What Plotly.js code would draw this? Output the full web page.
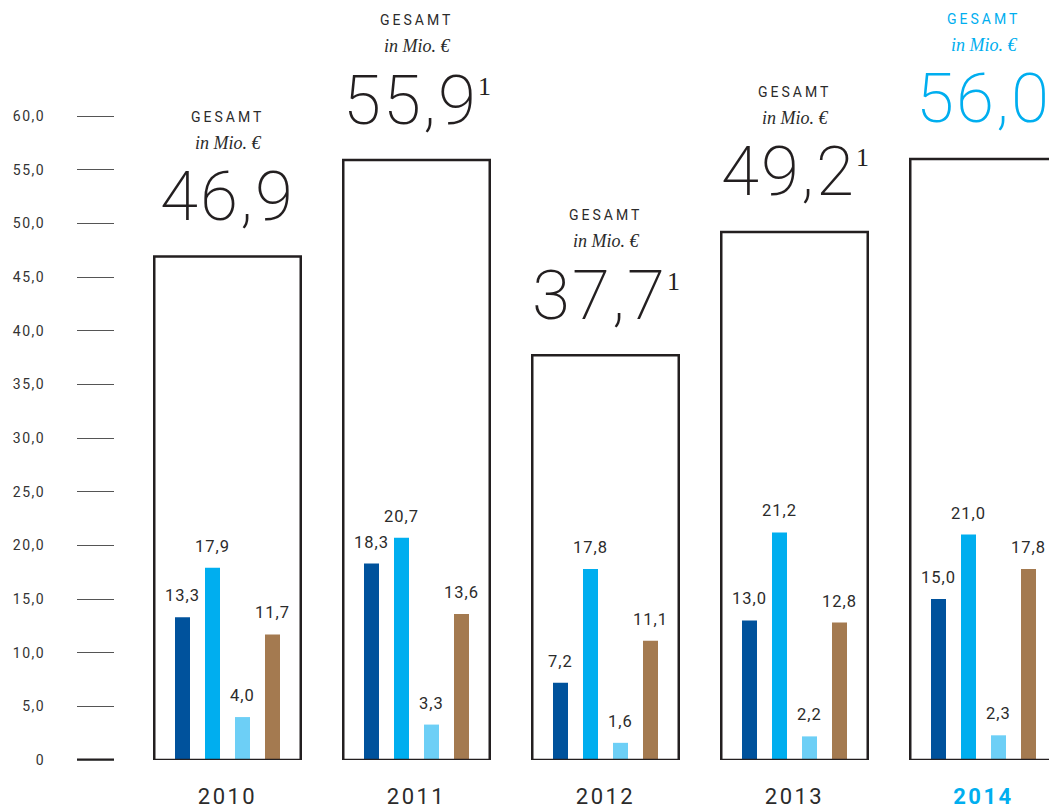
<!DOCTYPE html>
<html><head><meta charset="utf-8">
<script src="https://cdn.plot.ly/plotly-3.0.1.min.js"></script>
<style>html,body{margin:0;padding:0;background:#fff;overflow:hidden}</style>
</head><body><div id="chart" style="width:1049px;height:809px"></div>
<script>
// ---- data ----
const years = [2010, 2011, 2012, 2013, 2014];
const totals = [46.9, 55.9, 37.7, 49.2, 56.0];
const notes = ['', '1', '1', '1', ''];
const seriesDark = [13.3, 18.3, 7.2, 13.0, 15.0];
const seriesBlue = [17.9, 20.7, 17.8, 21.2, 21.0];
const seriesLight = [4.0, 3.3, 1.6, 2.2, 2.3];
const seriesBrown = [11.7, 13.6, 11.1, 12.8, 17.8];
const yTickValues = [0, 5, 10, 15, 20, 25, 30, 35, 40, 45, 50, 55, 60];
const headerLabel = 'GESAMT';
const unitLabel = 'in Mio. €';
const highlightYear = 2014;

// ---- layout constants ----
const W = 1049, H = 809;
const PX_PER_YEAR = 189, FIRST_CENTER_PX = 227.5;
const ZERO_PX = 760, PX_PER_UNIT = 644 / 60;
const TEXT = '#2b2b2b', HL = '#00aeef';
const NUM_FONT = 'Roboto, "Open Sans", sans-serif';

const fmt = v => v.toFixed(1).replace('.', ',');
const px2u = p => p / PX_PER_YEAR;

const series = [
  {values: seriesDark, color: '#00529c', offsetPx: -45},
  {values: seriesBlue, color: '#00aeef', offsetPx: -15},
  {values: seriesLight, color: '#6dcff6', offsetPx: 15},
  {values: seriesBrown, color: '#a47a50', offsetPx: 45}
];
const BAR_W = 15;

const traces = series.map(s => ({
  type: 'bar', x: years, y: s.values,
  width: px2u(BAR_W), offset: px2u(s.offsetPx - BAR_W / 2),
  marker: {color: s.color, line: {width: 0}},
  hoverinfo: 'skip'
}));
traces.push({
  type: 'bar', x: years, y: totals, width: px2u(146.5),
  marker: {color: 'rgba(0,0,0,0)', line: {color: '#231f20', width: 2.5}},
  hoverinfo: 'skip'
});

const annotations = [];
years.forEach((yr, i) => {
  const col = yr === highlightYear ? HL : TEXT;
  const numCol = yr === highlightYear ? HL : '#231f20';
  annotations.push({
    x: yr, y: totals[i], xref: 'x', yref: 'y', showarrow: false,
    xanchor: 'center', yanchor: 'middle', yshift: 140,
    text: `<span style="letter-spacing:3px">${headerLabel}</span>`,
    font: {family: NUM_FONT, size: 14, color: col}
  });
  annotations.push({
    x: yr, y: totals[i], xref: 'x', yref: 'y', showarrow: false,
    xanchor: 'center', yanchor: 'middle', yshift: 114,
    text: `<i>${unitLabel}</i>`,
    font: {family: '"Liberation Serif", serif', size: 18, color: col}
  });
  let t = `<span style="letter-spacing:2px">${fmt(totals[i])}</span>`;
  if (notes[i]) t += `<sup><span style="font-size:26px;font-family:'Liberation Serif',serif;font-weight:300">${notes[i]}</span></sup>`;
  annotations.push({
    x: yr, y: totals[i], xref: 'x', yref: 'y', showarrow: false,
    xanchor: 'center', yanchor: 'middle', yshift: 60,
    text: t,
    font: {family: NUM_FONT, size: 69, color: numCol, weight: 200}
  });
  series.forEach(s => {
    annotations.push({
      x: yr, y: s.values[i], xref: 'x', yref: 'y', showarrow: false,
      xanchor: 'center', yanchor: 'bottom', xshift: s.offsetPx, yshift: 10,
      text: `<span style="letter-spacing:1px">${fmt(s.values[i])}</span>`,
      font: {family: NUM_FONT, size: 16.5, color: TEXT}
    });
  });
});

const layout = {
  width: W, height: H,
  margin: {l: 0, r: 0, t: 0, b: H - ZERO_PX, pad: 0},
  paper_bgcolor: '#fff', plot_bgcolor: '#fff',
  barmode: 'overlay', showlegend: false,
  xaxis: {
    domain: [0, 1],
    range: [years[0] - px2u(FIRST_CENTER_PX), years[0] + px2u(W - FIRST_CENTER_PX)],
    tickvals: years,
    ticktext: years.map(y => y === highlightYear
      ? `<span style="letter-spacing:2.5px;font-weight:bold;fill:${HL}">${y}</span>`
      : `<span style="letter-spacing:2.5px">${y}</span>`),
    tickfont: {family: NUM_FONT, size: 22, color: TEXT},
    ticks: '', showline: false, showgrid: false, zeroline: false,
    ticklabelstandoff: 21, fixedrange: true
  },
  yaxis: {
    range: [0, ZERO_PX / PX_PER_UNIT],
    anchor: 'free', position: 114 / W,
    tickvals: yTickValues,
    ticktext: yTickValues.map(v => `<span style="letter-spacing:1.5px">${v === 0 ? '0' : fmt(v)}</span>`),
    tickfont: {family: NUM_FONT, size: 14, color: '#333'},
    ticks: 'outside', ticklen: 37, tickwidth: 1, tickcolor: '#555',
    showline: false, showgrid: false, zeroline: false,
    ticklabelstandoff: 29, fixedrange: true
  },
  shapes: [{
    type: 'line', xref: 'paper', yref: 'y',
    x0: 77 / W, x1: 114 / W, y0: 0, y1: 0,
    line: {color: '#231f20', width: 3}
  }],
  annotations: annotations
};

Plotly.newPlot('chart', traces, layout, {staticPlot: true, displayModeBar: false});
</script></body></html>
